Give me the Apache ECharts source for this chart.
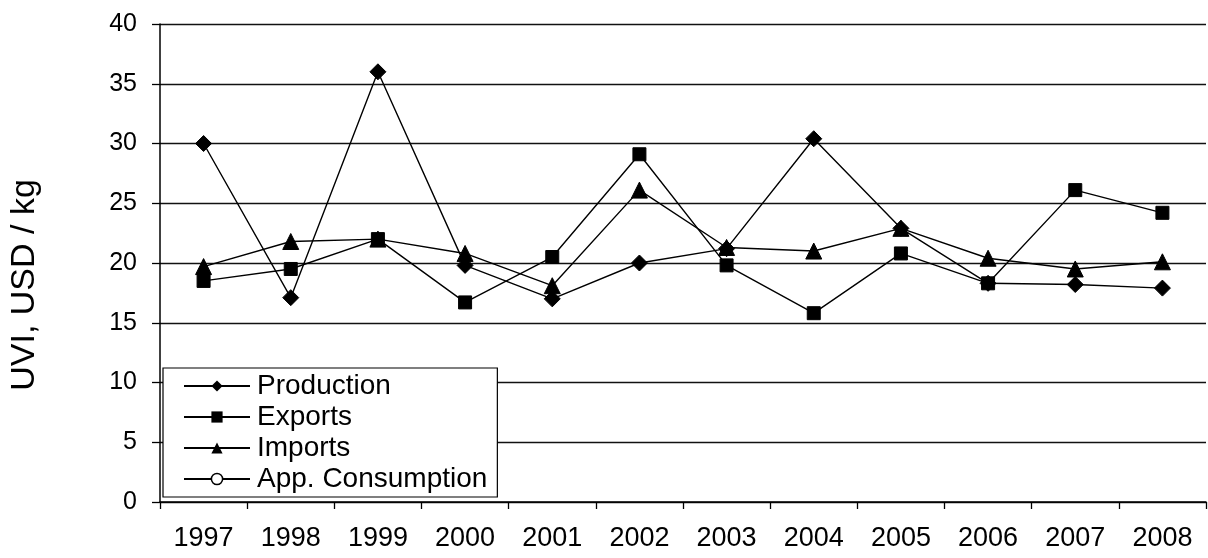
<!DOCTYPE html>
<html>
<head>
<meta charset="utf-8">
<script src="https://cdn.jsdelivr.net/npm/echarts@6/dist/echarts.min.js"></script>
<style>html,body{margin:0;padding:0;background:#fff}#c{width:1208px;height:558px}</style>
</head>
<body>
<div id="c"></div>
<script>
const categories = ['1997','1998','1999','2000','2001','2002','2003','2004','2005','2006','2007','2008'];
const production = [30.0, 17.1, 36.0, 19.8, 17.0, 20.0, 21.2, 30.4, 22.9, 18.3, 18.2, 17.9];
const exportsV   = [18.5, 19.5, 22.0, 16.7, 20.5, 29.1, 19.8, 15.8, 20.8, 18.3, 26.1, 24.2];
const importsV   = [19.7, 21.8, 22.0, 20.8, 18.1, 26.1, 21.3, 21.0, 22.9, 20.4, 19.5, 20.1];
const appConsumption = [];
const yTicks = [0, 5, 10, 15, 20, 25, 30, 35, 40];

const FONT = 'Liberation Sans';
const chart = echarts.init(document.getElementById('c'), null, {renderer: 'canvas'});
function ser(name, data, symbol, size, extra) {
  return Object.assign({
    name, type: 'line', data, symbol, symbolSize: size,
    lineStyle: {color: '#000', width: 1.4},
    itemStyle: {color: '#000', borderColor: '#000'},
    showAllSymbol: true, animation: false
  }, extra || {});
}
chart.setOption({
  animation: false,
  textStyle: {fontFamily: FONT, color: '#000'},
  grid: {left: 157, right: 2, top: 24, bottom: 56, containLabel: false},
  legend: {
    orient: 'vertical', left: 163, top: 368,
    backgroundColor: '#fff', borderColor: '#000', borderWidth: 1.2,
    padding: [4, 10, 4, 20], itemGap: 3,
    itemWidth: 66, itemHeight: 14,
    textStyle: {fontFamily: FONT, fontSize: 28, color: '#000', padding: [0, 0, 0, 2]},
    data: [
      {name: 'Production'},
      {name: 'Exports'},
      {name: 'Imports'},
      {name: 'App. Consumption', itemStyle: {color: '#fff', borderColor: '#000', borderWidth: 1.5}}
    ]
  },
  xAxis: {
    type: 'category', data: categories, boundaryGap: true,
    axisLine: {lineStyle: {color: '#000', width: 1.5}},
    axisTick: {show: true, length: 7, lineStyle: {color: '#000', width: 1.3}},
    axisLabel: {fontFamily: FONT, fontSize: 27, color: '#000', margin: 23}
  },
  yAxis: {
    type: 'value', min: 0, max: 40, interval: 5,
    name: 'UVI, USD / kg', nameLocation: 'middle', nameGap: 118,
    nameTextStyle: {fontFamily: FONT, fontSize: 34, color: '#000', padding: [0, 44, 0, 0]},
    axisLine: {show: true, lineStyle: {color: '#000', width: 1.5}},
    axisTick: {show: true, length: 8, lineStyle: {color: '#000', width: 1.3}},
    axisLabel: {fontFamily: FONT, fontSize: 25, color: '#000', margin: 23,
      formatter: v => yTicks.includes(v) ? String(v) : ''},
    splitLine: {show: true, lineStyle: {color: '#111', width: 1.3}}
  },
  series: [
    ser('Production', production, 'diamond', 16),
    ser('Exports', exportsV, 'rect', 13),
    ser('Imports', importsV, 'triangle', 16),
    ser('App. Consumption', appConsumption, 'circle', 12,
        {itemStyle: {color: '#fff', borderColor: '#000', borderWidth: 1.5}})
  ]
});
</script>
</body>
</html>
